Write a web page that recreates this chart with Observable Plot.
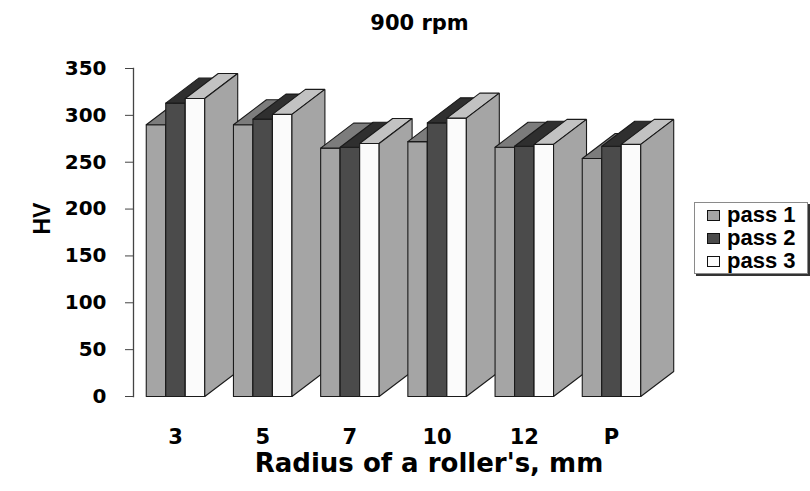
<!DOCTYPE html>
<html>
<head>
<meta charset="utf-8">
<script src="https://cdn.jsdelivr.net/npm/d3@7"></script>
<script src="https://cdn.jsdelivr.net/npm/@observablehq/plot@0.6"></script>
<style>
  html, body { margin: 0; padding: 0; background: #fff; overflow: hidden; }
  #wrap { position: relative; width: 810px; height: 491px; }
  #legend {
    position: absolute; left: 694px; top: 202px; width: 112px; height: 70px;
    border: 1px solid #8a8a8a; box-shadow: 2px 2px 0 #333; background: #fff;
    font-family: "Liberation Sans", Arial, sans-serif; font-weight: bold; font-size: 22px;
  }
  .row { position: relative; height: 23px; line-height: 23px; white-space: nowrap; }
  .sw { position: absolute; left: 12px; top: 7px; width: 11px; height: 9px; border: 1px solid #111; }
  .lab { position: absolute; left: 32px; top: 0; color: #000; }
</style>
</head>
<body>
<div id="wrap"></div>
<script>
// ---- data ----
const categories = ["3", "5", "7", "10", "12", "P"];
const series = ["pass 1", "pass 2", "pass 3"];
const pass1 = [290, 290, 265, 272, 266, 254];
const pass2 = [313, 296, 266, 292, 267, 267];
const pass3 = [318, 301, 270, 297, 269, 269];
const yTicks = [0, 50, 100, 150, 200, 250, 300, 350];

// ---- styling ----
const frontColors = ["#a5a5a5", "#4b4b4b", "#fbfbfb"];
const topColors   = ["#7c7c7c", "#2f2f2f", "#c2c2c2"];
const sideColors  = ["#8c8c8c", "#3a3a3a", "#a5a5a5"];
const barW = 0.2236;     // bar width in category units
const depthX = 0.378;    // 3D depth offset (category units)
const depthY = 26.7;     // 3D depth offset (value units)

const values = [pass1, pass2, pass3];
const faces = [];
let fid = 0;
categories.forEach((c, i) => {
  values.forEach((arr, j) => {
    const v = arr[i];
    const x0 = i + (j - 1.5) * barW, x1 = x0 + barW;
    const polys = [
      {fill: frontColors[j], pts: [[x0,0],[x1,0],[x1,v],[x0,v],[x0,0]]},
      {fill: topColors[j],   pts: [[x0,v],[x1,v],[x1+depthX,v+depthY],[x0+depthX,v+depthY],[x0,v]]},
      {fill: sideColors[j],  pts: [[x1,0],[x1+depthX,depthY],[x1+depthX,v+depthY],[x1,v],[x1,0]]}
    ];
    for (const p of polys) {
      const id = fid++;
      for (const [x, y] of p.pts) faces.push({id, x, y, fill: p.fill});
    }
  });
});

const x0dom = -0.4817, x1dom = x0dom + 557 / 87.2;

const chart = Plot.plot({
  width: 810,
  height: 491,
  marginTop: 68,
  marginBottom: 95,
  marginLeft: 133,
  marginRight: 120,
  style: {background: "#fff", overflow: "visible"},
  x: {type: "linear", domain: [x0dom, x1dom]},
  y: {domain: [0, 350]},
  color: {type: "identity"},
  marks: [
    Plot.line(faces, {x: "x", y: "y", z: "id", fill: "fill", stroke: "#1a1a1a", strokeWidth: 1.1, curve: "linear", strokeLinejoin: "miter"}),
    Plot.frame({anchor: "left", stroke: "#444", strokeWidth: 1.3}),
    Plot.axisY({ticks: yTicks, tickSize: 8, tickPadding: 19, label: null, stroke: "#444",
      fontSize: 20, fontFamily: "DejaVu Sans", fontWeight: "bold", fill: "#000"}),
    Plot.axisX({ticks: d3.range(categories.length), tickFormat: i => categories[i], tickSize: 0, tickPadding: 33, label: null,
      fontSize: 21, fontFamily: "DejaVu Sans", fontWeight: "bold", fill: "#000"}),
    Plot.text(["900 rpm"], {text: d => d, frameAnchor: "top", lineAnchor: "middle", dy: -45, dx: 7.5,
      fontSize: 21, fontFamily: "DejaVu Sans", fontWeight: "bold", fill: "#000"}),
    Plot.text(["Radius of a roller's, mm"], {text: d => d, frameAnchor: "bottom", lineAnchor: "middle", dy: 67, dx: 17,
      fontSize: 26, fontFamily: "DejaVu Sans", fontWeight: "bold", fill: "#000"}),
    Plot.text(["HV"], {text: d => d, frameAnchor: "left", lineAnchor: "middle", rotate: -90, dx: -91, dy: 2,
      fontSize: 23, fontFamily: "Liberation Sans", fontWeight: "bold", fill: "#000"})
  ]
});

const wrap = document.getElementById("wrap");
wrap.appendChild(chart);

const legend = document.createElement("div");
legend.id = "legend";
series.forEach((s, j) => {
  const row = document.createElement("div");
  row.className = "row";
  const sw = document.createElement("span");
  sw.className = "sw";
  sw.style.background = frontColors[j];
  const lab = document.createElement("span");
  lab.className = "lab";
  lab.textContent = s;
  row.appendChild(sw);
  row.appendChild(lab);
  legend.appendChild(row);
});
wrap.appendChild(legend);
</script>
</body>
</html>
